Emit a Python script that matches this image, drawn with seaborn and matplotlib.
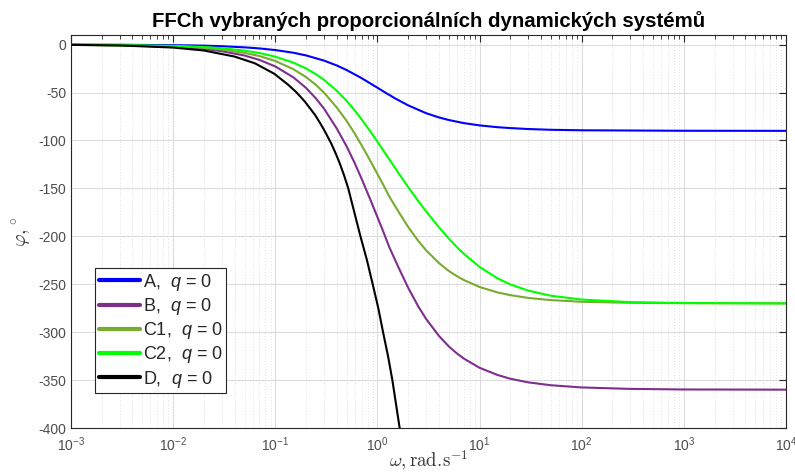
import matplotlib
matplotlib.use("Agg")
import matplotlib.pyplot as plt
import matplotlib.ticker as mticker
from matplotlib.lines import Line2D
import numpy as np
import pandas as pd
import seaborn as sns

# Phase-frequency characteristics (omega in rad/s, phase in degrees)
w_A = [1e-3, 3e-3, 0.01, 0.02, 0.03, 0.05, 0.07, 0.1, 0.15, 0.2, 0.3, 0.4, 0.5, 0.7, 1.0,
       1.2, 1.5, 2.0, 3.0, 4.0, 5.0, 7.0, 10, 15, 20, 30, 50, 100, 1000, 1e4]
phi_A = [-0.06, -0.2, -0.6, -1.1, -1.7, -2.9, -4.0, -5.7, -8.5, -11.3, -16.7, -21.8, -26.6,
         -35.0, -45.0, -50.2, -56.3, -63.4, -71.6, -76.0, -78.7, -81.9, -84.3, -86.2, -87.1,
         -88.1, -88.9, -89.4, -89.9, -90.0]

w_B = [1e-3, 3e-3, 0.01, 0.02, 0.03, 0.05, 0.07, 0.1, 0.15, 0.2, 0.25, 0.3, 0.4, 0.5, 0.6,
       0.7, 0.85, 1.0, 1.15, 1.3, 1.6, 2.0, 2.5, 3.0, 4.0, 5.0, 6.0, 7.0, 10, 15, 20, 30,
       50, 100, 300, 1000, 1e4]
phi_B = [-0.2, -0.7, -2.3, -4.6, -6.9, -11.4, -16.0, -22.8, -34.1, -45.2, -56.2, -66.8,
         -87.6, -106.3, -123.8, -140.0, -161.4, -180.0, -196.0, -210.8, -232.0, -253.7,
         -272.8, -286.3, -303.9, -314.9, -322.2, -327.5, -337.2, -344.7, -348.6, -352.4,
         -355.4, -357.7, -359.2, -359.8, -360.0]

w_C1 = [1e-3, 0.01, 0.02, 0.03, 0.05, 0.07, 0.1, 0.15, 0.2, 0.25, 0.3, 0.4, 0.5, 0.6, 0.7,
        0.85, 1.0, 1.15, 1.3, 1.6, 2.0, 2.5, 3.0, 4.0, 5.0, 6.0, 7.0, 10, 15, 20, 30, 50,
        100, 300, 1000, 1e4]
phi_C1 = [-0.2, -1.7, -3.4, -5.2, -8.6, -12.0, -17.1, -25.6, -33.9, -42.1, -50.1, -65.7,
          -79.7, -92.9, -105.0, -121.1, -135.0, -147.0, -158.1, -174.0, -190.3, -204.6,
          -214.7, -227.9, -236.2, -241.6, -245.6, -252.9, -258.6, -261.4, -264.3, -266.6,
          -268.3, -269.4, -269.8, -270.0]

w_C2 = [1e-3, 0.01, 0.02, 0.03, 0.05, 0.07, 0.1, 0.15, 0.2, 0.25, 0.3, 0.4, 0.5, 0.6, 0.7,
        0.85, 1.0, 1.15, 1.3, 1.6, 2.0, 2.5, 3.0, 4.0, 5.0, 6.0, 7.0, 10, 15, 20, 30, 50,
        100, 300, 1000, 1e4]
phi_C2 = [-0.1, -1.3, -2.5, -3.8, -6.3, -8.8, -12.6, -18.8, -24.9, -30.9, -36.8, -48.2,
          -58.8, -68.8, -78.0, -90.4, -101.3, -111.0, -119.4, -133.7, -148.7, -163.0,
          -174.1, -190.6, -202.4, -211.3, -218.2, -232.0, -243.9, -250.2, -256.7, -262.0,
          -266.0, -268.7, -269.6, -270.0]

w_D = [1e-3, 3e-3, 0.01, 0.02, 0.04, 0.063, 0.098, 0.134, 0.16, 0.195, 0.245, 0.275,
       0.307, 0.356, 0.39, 0.428, 0.47, 0.518, 0.594, 0.682, 0.79, 0.899, 1.02, 1.135,
       1.27, 1.40, 1.52, 1.65, 1.75]
phi_D = [-0.3, -0.9, -3.1, -6.2, -12.5, -19.5, -30.5, -42.0, -49.5, -59.5, -73.4, -82.0,
         -90.8, -104.0, -113.5, -124.0, -136.0, -150.0, -175.0, -200.0, -225.0, -250.0,
         -275.0, -300.0, -325.0, -350.0, -375.0, -400.0, -420.0]

x_ticks = [1e-3, 1e-2, 1e-1, 1e0, 1e1, 1e2, 1e3, 1e4]
y_ticks = [-400, -350, -300, -250, -200, -150, -100, -50, 0]

labels = ["A,  $q$ = 0", "B,  $q$ = 0", "C1,  $q$ = 0", "C2,  $q$ = 0", "D,  $q$ = 0"]
colors = ["#0000FF", "#7E2F8E", "#77AC30", "#00FF00", "#000000"]

series = [(w_A, phi_A), (w_B, phi_B), (w_C1, phi_C1), (w_C2, phi_C2), (w_D, phi_D)]
df = pd.concat(
    [pd.DataFrame({"omega": w, "phi": p, "system": lab}) for (w, p), lab in zip(series, labels)],
    ignore_index=True,
)

sns.set_theme(style="white")
plt.rcParams["font.family"] = ["Liberation Sans", "DejaVu Sans"]
plt.rcParams["axes.unicode_minus"] = False
plt.rcParams["mathtext.fontset"] = "custom"
plt.rcParams["mathtext.rm"] = "Liberation Sans"
plt.rcParams["mathtext.it"] = "Liberation Sans:italic"
plt.rcParams["mathtext.bf"] = "Liberation Sans:bold"

fig = plt.figure(figsize=(7.95, 4.76), dpi=100)
ax = fig.add_axes([71 / 795, 1 - 428 / 476, 715 / 795, 393 / 476])

sns.lineplot(data=df, x="omega", y="phi", hue="system", hue_order=labels,
             palette=colors, linewidth=1.5, legend=False, ax=ax, estimator=None)

ax.set_xscale("log")
ax.set_xlim(1e-3, 1e4)
ax.set_ylim(-400, 10)
ax.set_yticks(y_ticks)
ax.xaxis.set_major_locator(mticker.FixedLocator(x_ticks))
ax.xaxis.set_major_formatter(mticker.LogFormatterSciNotation())
ax.xaxis.set_minor_locator(mticker.LogLocator(base=10, subs=np.arange(2, 10), numticks=100))
ax.xaxis.set_minor_formatter(mticker.NullFormatter())

axis_col = "#262626"
ax.grid(which="major", color="#dcdcdc", linewidth=0.8, linestyle="-")
ax.grid(which="minor", axis="x", color="#c4c4c4", linewidth=0.5, linestyle=(0, (1, 3)))
ax.set_axisbelow(True)

for s in ax.spines.values():
    s.set_color(axis_col)
    s.set_linewidth(0.8)
ax.tick_params(which="both", direction="in", top=True, right=True, colors=axis_col,
               labelcolor="#4d4d4d", labelsize=10)
ax.tick_params(which="major", length=5, width=0.8)
ax.tick_params(which="minor", length=3, width=0.6)
ax.tick_params(axis="x", pad=5)

ax.set_title("FFCh vybraných proporcionálních dynamických systémů",
             fontsize=14.7, fontweight="bold", color="#000000", pad=6)
ax.set_xlabel(r"$\omega,\mathrm{rad.}\!\mathrm{s}^{-1}$", fontsize=13.5, color="#333333",
              math_fontfamily="cm", labelpad=-3)
ax.set_ylabel(r"$\varphi,{}^{\circ}$", fontsize=14, color="#333333",
              math_fontfamily="cm", labelpad=4)

handles = [Line2D([0], [0], color=c, linewidth=3) for c in colors]
leg = ax.legend(handles, labels, loc="upper left", bbox_to_anchor=(0.0336, 0.407),
                fontsize=13, frameon=True, fancybox=False, framealpha=1,
                edgecolor="#262626", borderaxespad=0, borderpad=0.2,
                handlelength=2.3, handletextpad=0.15, labelspacing=0.18)
leg.get_frame().set_linewidth(0.8)

fig.savefig("out.png", dpi=100)
